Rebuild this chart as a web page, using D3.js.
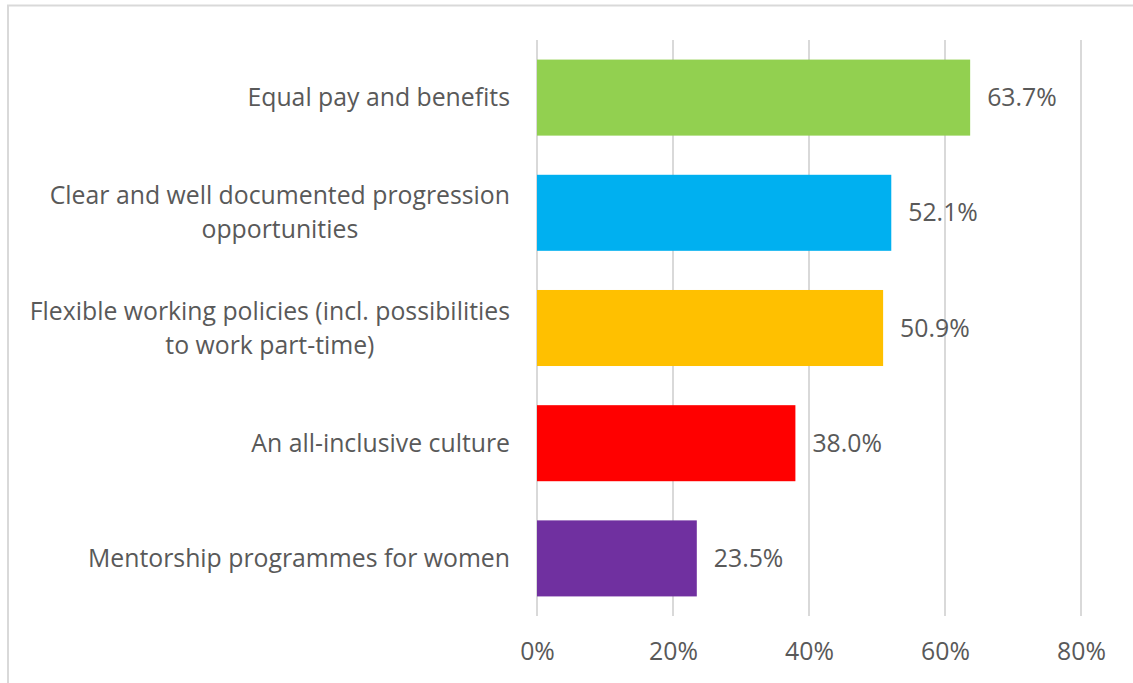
<!DOCTYPE html>
<html>
<head>
<meta charset="utf-8">
<script src="https://cdn.jsdelivr.net/npm/d3@7"></script>
<style>
  body { margin: 0; background: #fff; }
  text { font-family: "Open Sans", "Noto Sans", sans-serif; fill: #595959; }
</style>
</head>
<body>
<div class="chart"></div>
<script>
var categories = [
  ["Equal pay and benefits"],
  ["Clear and well documented progression", "opportunities"],
  ["Flexible working policies (incl. possibilities", "to work part-time)"],
  ["An all-inclusive culture"],
  ["Mentorship programmes for women"]
];
var values = [63.7, 52.1, 50.9, 38.0, 23.5];
var colors = ["#92D050", "#00B0F0", "#FFC000", "#FF0000", "#7030A0"];
var xTicks = [0, 20, 40, 60, 80];

var svgWidth = 1133;
var svgHeight = 683;
var fontSize = 24.8;

var margin = { top: 40, right: 52, bottom: 67, left: 537 };
var width = svgWidth - margin.left - margin.right;
var height = svgHeight - margin.top - margin.bottom;

var svg = d3.select(".chart")
  .append("svg")
  .attr("width", svgWidth)
  .attr("height", svgHeight);

// outer frame (cut off at right and bottom)
svg.append("rect")
  .attr("x", 8)
  .attr("y", 5.5)
  .attr("width", 1300)
  .attr("height", 900)
  .attr("fill", "none")
  .attr("stroke", "#d9d9d9")
  .attr("stroke-width", 2);

var chartGroup = svg.append("g")
  .attr("transform", `translate(${margin.left}, ${margin.top})`);

var xScale = d3.scaleLinear().domain([0, 80]).range([0, 544]);
var yScale = d3.scaleBand()
  .domain(d3.range(values.length))
  .range([0, height])
  .paddingInner(0.34)
  .paddingOuter(0.17);

// gridlines
chartGroup.selectAll(".grid")
  .data(xTicks)
  .enter()
  .append("line")
  .attr("x1", d => xScale(d))
  .attr("x2", d => xScale(d))
  .attr("y1", 0)
  .attr("y2", height)
  .attr("stroke", "#d9d9d9")
  .attr("stroke-width", 2);

// x axis labels
var bottomAxis = d3.axisBottom(xScale)
  .tickValues(xTicks)
  .tickFormat(d => d + "%")
  .tickSize(0)
  .tickPadding(26);

var xAxis = chartGroup.append("g")
  .attr("transform", `translate(0, ${height})`)
  .call(bottomAxis);
xAxis.select(".domain").remove();
xAxis.selectAll("text")
  .attr("font-size", fontSize)
  .attr("font-family", null)
  .attr("fill", null);

// bars
chartGroup.selectAll(".bar")
  .data(values)
  .enter()
  .append("rect")
  .attr("x", xScale(0))
  .attr("y", (d, i) => yScale(i))
  .attr("width", d => xScale(d) - xScale(0))
  .attr("height", yScale.bandwidth())
  .attr("fill", (d, i) => colors[i]);

// value labels
chartGroup.selectAll(".valueText")
  .data(values)
  .enter()
  .append("text")
  .attr("x", d => xScale(d) + 17)
  .attr("y", (d, i) => yScale(i) + yScale.bandwidth() / 2)
  .attr("dy", "0.35em")
  .attr("font-size", fontSize)
  .text(d => d.toFixed(1) + "%");

// category labels, lines centred within a right-aligned block
var lineHeight = 34;
categories.forEach(function(lines, i) {
  var cy = yScale(i) + yScale.bandwidth() / 2;
  var g = chartGroup.append("g");
  var texts = lines.map(function(line, j) {
    return g.append("text")
      .attr("y", cy + (j - (lines.length - 1) / 2) * lineHeight)
      .attr("dy", "0.35em")
      .attr("font-size", fontSize)
      .attr("text-anchor", "middle")
      .text(line);
  });
  var maxW = d3.max(texts, t => t.node().getComputedTextLength());
  texts.forEach(t => t.attr("x", -27 - maxW / 2));
});
</script>
</body>
</html>
